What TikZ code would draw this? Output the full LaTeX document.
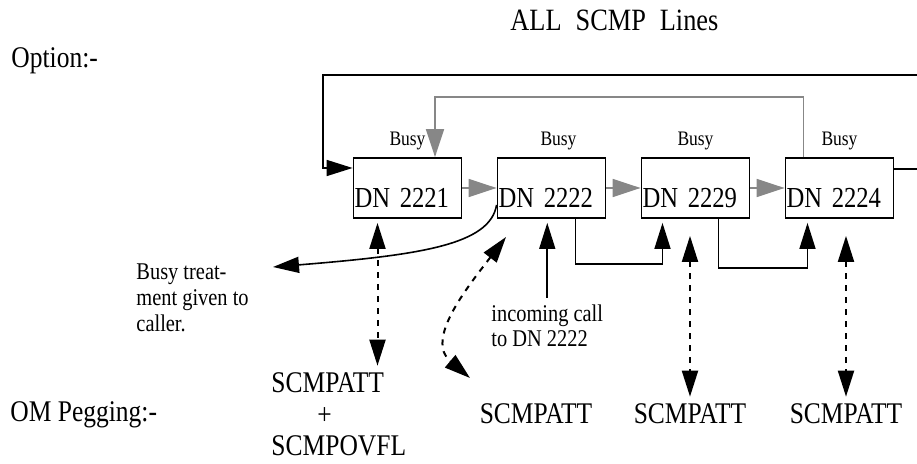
\documentclass[tikz,border=0pt]{standalone}
\usepackage{fontspec}
\setmainfont{Liberation Serif}[FakeStretch=0.85]
\usetikzlibrary{arrows.meta,positioning,calc}

\tikzset{
  dnbox/.style={draw,line width=0.9pt,minimum width=54pt,minimum height=30pt,
    inner xsep=0.5pt,inner ysep=0pt,text width=53pt,align=left,
    text height=25pt,text depth=5pt,font=\fontsize{14.5}{15}\selectfont},
  busy/.style={font=\fontsize{10.3}{11}\selectfont,inner sep=0pt,draw=none,yshift=3pt,
    text width=,text height=,text depth=,minimum width=0pt,minimum height=0pt},
  pegtext/.style={font=\fontsize{15}{15.75}\selectfont},
  note/.style={font=\fontsize{12}{13}\selectfont,align=left},
  gline/.style={draw=black!47,line width=0.8pt,-{Triangle[length=14pt,width=9pt]}},
  peg/.style={{Triangle[length=13pt,width=8pt]}-{Triangle[length=13pt,width=8pt]},
    line width=1pt,dash pattern=on 3pt off 3pt}
}

\begin{document}
\begin{tikzpicture}[x=0.5pt,y=-0.5pt,on grid,node distance=72pt,line width=0.8pt,
    >={Triangle[length=13pt,width=8pt]}]
  \useasboundingbox (0,0) rectangle (917,464);

  % headings
  \node[anchor=base west,font=\fontsize{15.5}{16}\selectfont] (title) at (503,31)
    {ALL\hspace{0.45em}SCMP\hspace{0.45em}Lines};
  \node[anchor=base west,font=\fontsize{15}{16}\selectfont] (opt) at (4,68) {Option:-};
  \node[anchor=base west,font=\fontsize{15}{16}\selectfont] (om) at (3,422) {OM Pegging:-};

  % the DN chain
  \node[dnbox,label={[busy]above:Busy}] (b1) at (407.5,188) {DN 2221};
  \node[dnbox,label={[busy,xshift=3.5pt]above:Busy},right=of b1] (b2) {DN 2222};
  \node[dnbox,label={[busy]above:Busy},right=of b2] (b3) {DN 2229};
  \node[dnbox,label={[busy]above:Busy},right=of b3] (b4) {DN 2224};

  % OM pegs (base = last line)
  \node[pegtext,anchor=base west,align=left] (p1) at (264,456)
    {SCMPATT\\\hspace*{23pt}+\\SCMPOVFL};
  \node[pegtext,anchor=base] (p2) at (536,424) {SCMPATT};
  \node[pegtext,anchor=base] (p3) at (690,424) {SCMPATT};
  \node[pegtext,anchor=base] (p4) at (846,424) {SCMPATT};

  % notes
  \node[note,anchor=base west] (bt) at (129,332) {Busy treat-\\ment given to\\caller.};
  \node[note,anchor=base west,font=\fontsize{12}{12.5}\selectfont] (inc) at (484,347)
    {incoming call\\to DN 2222};

  \coordinate (loop) at (323,75);
  \coordinate (btip) at (273,267);
  \coordinate (cu) at (506,237);
  \coordinate (cl) at (470,378);
  \coordinate (a1) at ([xshift=-15pt]b1.south);

  % grey hunting path
  \draw[gline] (b1) -- (b2);
  \draw[gline] (b2) -- (b3);
  \draw[gline] (b3) -- (b4);
  \draw[gline] ([xshift=-18pt]b4.north) -- ++(0,-60) -| ([xshift=13.75pt]b1.north);

  % black loop round all lines
  \draw[->] ([yshift=9.5pt]b4.east) -- ++(40,0) |- (loop) |- ([yshift=10pt]b1.west);

  \draw[->] ([xshift=12pt]b2.south) -- ++(0,45) -| ([xshift=-16.5pt,yshift=-2pt]b3.south);
  \draw[->] ([xshift=11.5pt]b3.south) -- ++(0,49) -| ([xshift=-16pt,yshift=-2pt]b4.south);
  \draw[->,shorten >=2pt] (inc.north) -- (inc.north |- b2.south);
  \draw[->] ([yshift=7pt]b2.south west) .. controls (490,245) and (420,255) .. (btip);

  % pegging arrows
  \draw[peg] ($(a1)+(0,4)$) -- (a1 |- p1.north);
  \draw[peg] ($(b3.south -| p3)+(0,17)$) -- (p3.north);
  \draw[peg] ($(b4.south -| p4)+(0,17)$) -- (p4.north);
  \draw[peg] (cu) .. controls (466,289) and (425,340) .. (cl);
\end{tikzpicture}
\end{document}
